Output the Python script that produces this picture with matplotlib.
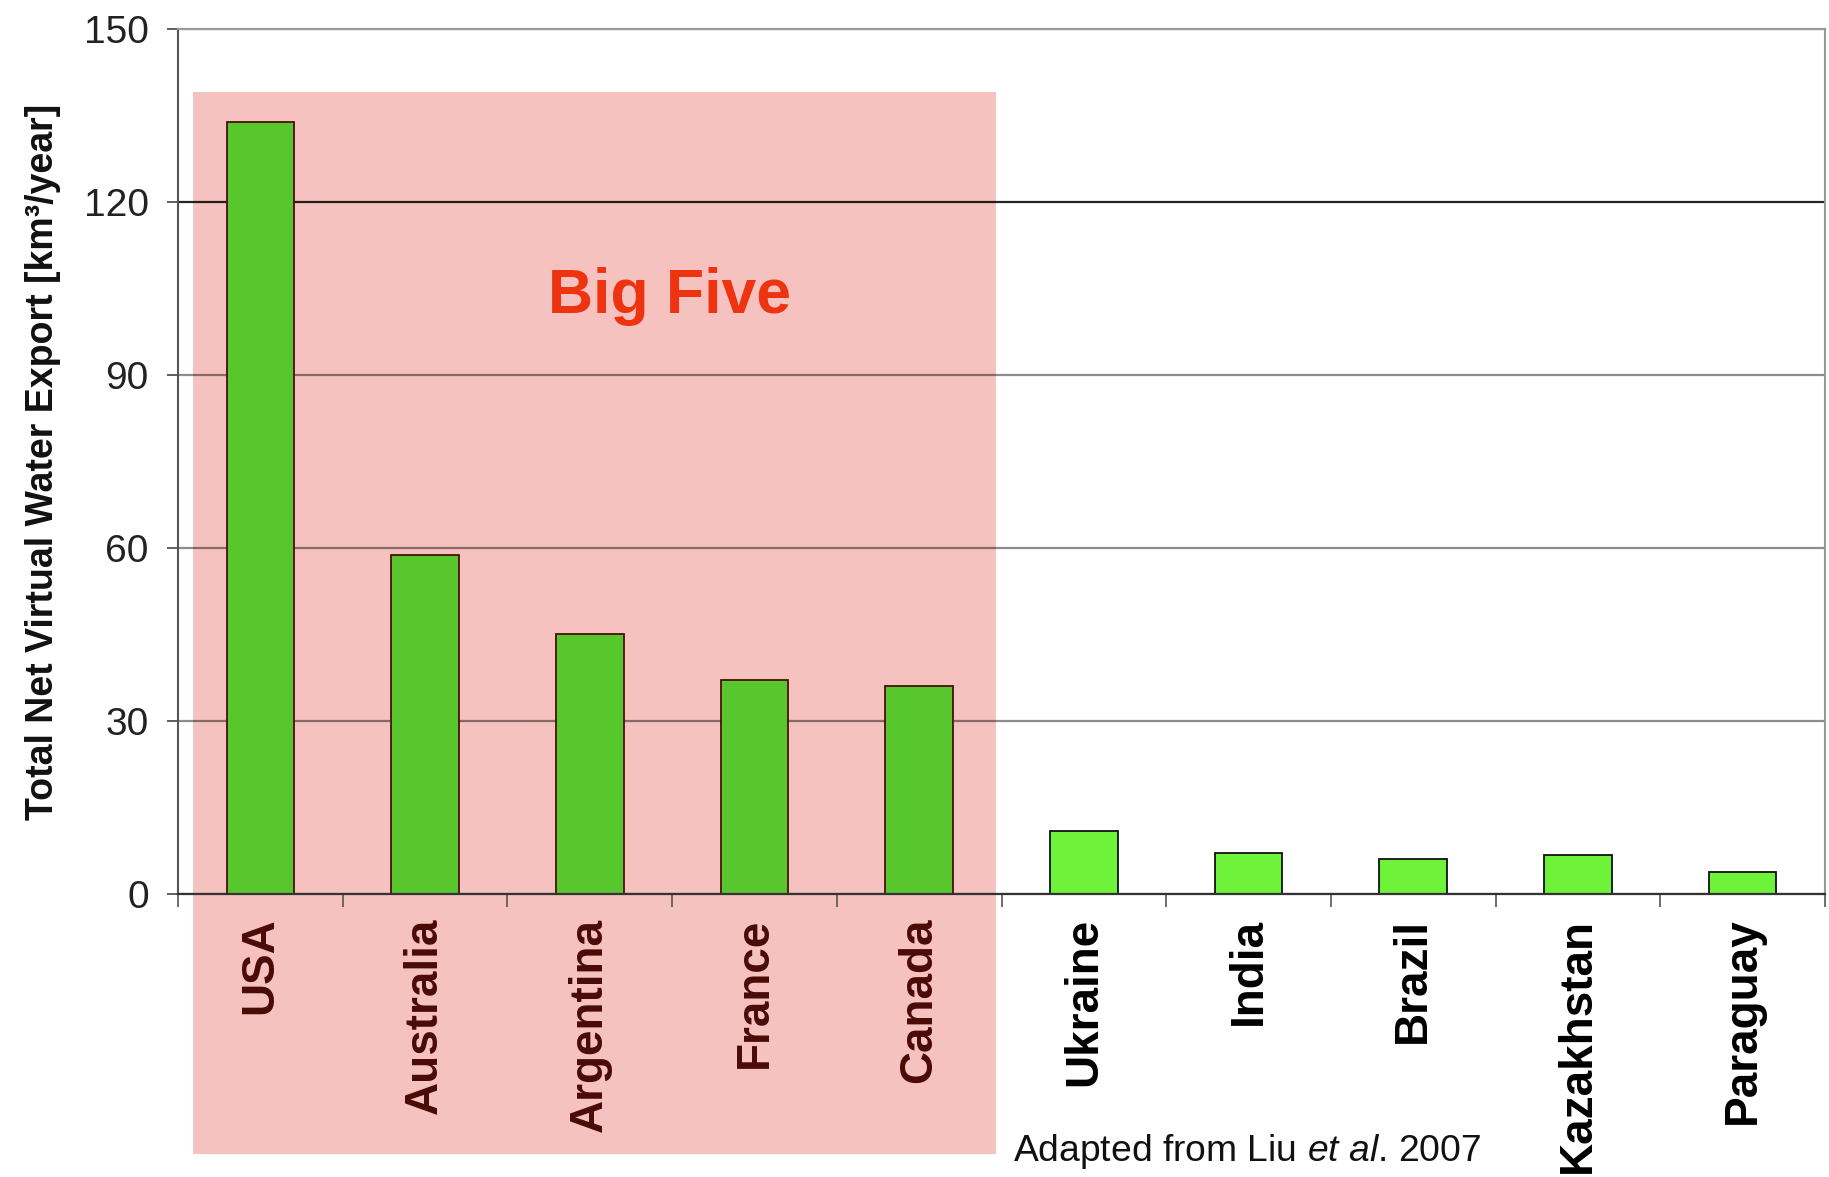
import matplotlib
matplotlib.use("Agg")
import matplotlib.pyplot as plt
from matplotlib.patches import Rectangle
import numpy as np

# data
countries = ["USA", "Australia", "Argentina", "France", "Canada",
             "Ukraine", "India", "Brazil", "Kazakhstan", "Paraguay"]
net_export = [133.8, 58.7, 45.1, 37.1, 36.1, 11.0, 7.1, 6.1, 6.7, 3.8]
big_five = ["USA", "Australia", "Argentina", "France", "Canada"]
y_ticks = [0, 30, 60, 90, 120, 150]

plt.rcParams["font.family"] = ["Liberation Sans", "DejaVu Sans"]
plt.rcParams["mathtext.fontset"] = "custom"
plt.rcParams["mathtext.rm"] = "Liberation Sans"
plt.rcParams["mathtext.it"] = "Liberation Sans:italic"

fig = plt.figure(figsize=(18.29, 11.77), dpi=100)
ax = fig.add_axes([178 / 1829, 1 - 894 / 1177, 1647 / 1829, 865 / 1177])

x = np.arange(len(countries))
is_big = [c in big_five for c in countries]
faces = ["#58C72D" if b else "#6EF23A" for b in is_big]
edges = ["#4A1008" if b else "#111111" for b in is_big]

ax.bar(x, net_export, width=0.41, color=faces, edgecolor=edges,
       linewidth=1.3, zorder=2)

# shaded "Big Five" block behind everything
n_big = len(big_five)
ax.add_patch(Rectangle((-0.407, -45.1), n_big - 0.126, 184.1,
                       facecolor="#F5C2C0", edgecolor="none",
                       clip_on=False, zorder=0.3))
ax.text((n_big - 1) / 2 + 0.484, 100.7, "Big Five", ha="center", va="baseline",
        fontsize=45, fontweight="bold", color="#EE3311", zorder=3)

ax.set_xlim(-0.5, len(countries) - 0.5)
ax.set_ylim(0, 150)
ax.set_yticks(y_ticks)
ax.set_yticklabels([str(t) for t in y_ticks], fontsize=28, color="#222222")
ax.tick_params(axis="y", direction="out", length=8, width=1.2,
               color="#444444", pad=13)

ax.set_xticks(x)
ax.set_xticklabels(countries, rotation=90, fontsize=33, fontweight="bold",
                   va="top", ha="center")
for lab, b in zip(ax.get_xticklabels(), is_big):
    lab.set_color("#4A0A05" if b else "#000000")
ax.tick_params(axis="x", which="major", length=0, pad=17)
ax.set_xticks(np.arange(-0.5, len(countries)), minor=True)
ax.tick_params(axis="x", which="minor", direction="out", length=9,
               width=1.2, color="#555555")

ax.set_axisbelow(True)
ax.yaxis.grid(True, color="black", alpha=0.45, linewidth=1.6)
ax.get_ygridlines()[4].set_alpha(0.85)

ax.spines["left"].set_color("#555555")
ax.spines["left"].set_linewidth(1.5)
ax.spines["bottom"].set_color("#333333")
ax.spines["bottom"].set_linewidth(1.6)
ax.spines["right"].set_color("#999999")
ax.spines["right"].set_linewidth(1.5)
ax.spines["top"].set_color("#999999")
ax.spines["top"].set_linewidth(1.6)

ax.set_ylabel("Total Net Virtual Water Export [km³/year]", fontsize=27,
              fontweight="bold", color="#111111")
ax.yaxis.label.set_va("center")
ax.yaxis.set_label_coords(-0.082, 0.5)

fig.text(1013 / 1829, 1 - 1161 / 1177, r"Adapted from Liu $\mathit{et\ al}$. 2007",
         fontsize=26.8, ha="left", va="baseline", color="#111111")

fig.savefig("out.png", dpi=100, facecolor="white")
